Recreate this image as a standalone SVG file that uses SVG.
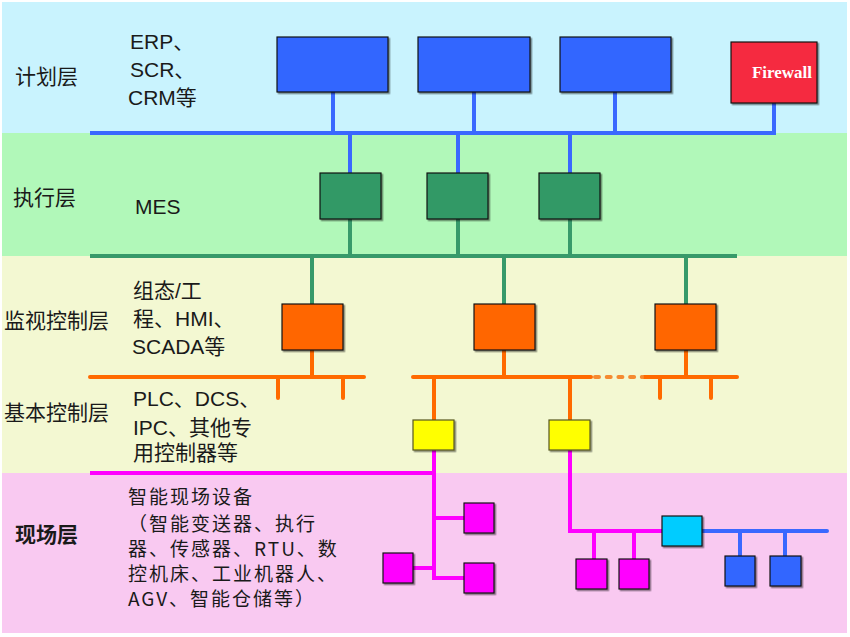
<svg xmlns="http://www.w3.org/2000/svg" width="850" height="637" viewBox="0 0 850 637">
<defs>
<filter id="sh" x="-10%" y="-10%" width="130%" height="130%">
<feDropShadow dx="1.5" dy="1.5" stdDeviation="0.6" flood-color="#000" flood-opacity="0.45"/>
</filter>
<style>
.box{stroke:#111;stroke-width:1.2;filter:url(#sh)}
.blue{fill:#3366FF}
.green{fill:#339966}
.orange{fill:#FF6600}
.yellow{fill:#FFFF00;stroke:#555522}
.mag{fill:#FF00FF}
.cyan{fill:#00CCFF}
.lb{fill:none;stroke:#3A68FF;stroke-width:4}
.lg{fill:none;stroke:#379A6A;stroke-width:4}
.lo{fill:none;stroke:#FF6A00;stroke-width:4;stroke-linecap:round}
.lm{fill:none;stroke:#FF00FF;stroke-width:4}
.t{font-family:"Liberation Sans","Noto Sans CJK SC",sans-serif;font-size:21px;fill:#1a1a1a}
.f{font-family:"Noto Sans CJK SC","Liberation Sans",sans-serif;font-size:19px;letter-spacing:2px;fill:#1a1a1a}
</style>
</defs>
<g id="bands">
<rect x="2" y="2" width="845" height="131" fill="#C9F3FE"/>
<rect x="2" y="133" width="845" height="123" fill="#B1F8B9"/>
<rect x="2" y="256" width="845" height="217" fill="#F3F8D2"/>
<rect x="2" y="473" width="845" height="160" fill="#F9C9F1"/>
</g>
<g id="labels">
<text class="t" x="15" y="84">计划层</text>
<text class="t" x="130" y="49">ERP、</text>
<text class="t" x="130" y="77">SCR、</text>
<text class="t" x="128" y="105">CRM等</text>
<text class="t" x="13" y="205">执行层</text>
<text class="t" x="135" y="214">MES</text>
<text class="t" x="4" y="328">监视控制层</text>
<text class="t" x="133" y="298">组态/工</text>
<text class="t" x="133" y="326">程、HMI、</text>
<text class="t" x="132" y="354">SCADA等</text>
<text class="t" x="4" y="420">基本控制层</text>
<text class="t" x="133" y="406">PLC、DCS、</text>
<text class="t" x="133" y="435">IPC、其他专</text>
<text class="t" x="133" y="460">用控制器等</text>
<text class="t" x="15" y="542" font-weight="bold">现场层</text>
<text class="f" x="128" y="504">智能现场设备</text>
<text class="f" x="128" y="531">（智能变送器、执行</text>
<text class="f" x="128" y="556">器、传感器、RTU、数</text>
<text class="f" x="128" y="581">控机床、工业机器人、</text>
<text class="f" x="128" y="606">AGV、智能仓储等）</text>
</g>
<g id="connectors">
<path class="lb" d="M90 133 H774 V103"/>
<path class="lb" d="M333 92 V133 M474 92 V133 M615 92 V133"/>
<path class="lb" d="M350 133 V173 M458 133 V173 M570 133 V173"/>
<path class="lg" d="M350 219 V256 M458 219 V256 M570 219 V256"/>
<path class="lg" d="M90 256 H737"/>
<path class="lg" d="M312 256 V304 M504 256 V304 M686 256 V304"/>
<path class="lo" d="M312 350 V377 M504 350 V377 M686 350 V377"/>
<path class="lo" d="M90 377 H364 M278 377 V398 M343 377 V398"/>
<path class="lo" d="M413 377 H591 M644 377 H737 M660 377 V398 M711 377 V398"/>
<path fill="none" stroke="#F58A30" stroke-width="4" stroke-linecap="round" stroke-dasharray="4 7.7" d="M595 377 H642"/>
<path class="lo" stroke-linecap="butt" d="M434 377 V420 M570 377 V420"/>
<path class="lm" d="M90 473 H434 M434 450 V578 H464 M434 518 H464 M413 568 H434"/>
<path class="lm" d="M570 450 V531 H662 M594 531 V559 M634 531 V559"/>
<path class="lb" d="M702 531 H827 M740 531 V556 M785 531 V556" stroke-linecap="round"/>
</g>
<g id="erp1"><rect class="box blue" x="277" y="37" width="111" height="55"/></g>
<g id="erp2"><rect class="box blue" x="418" y="37" width="112" height="55"/></g>
<g id="erp3"><rect class="box blue" x="560" y="37" width="111" height="55"/></g>
<g id="firewall"><rect class="box" fill="#F52A3F" x="731" y="42" width="86" height="61"/>
<text x="782" y="78" text-anchor="middle" font-family="Liberation Serif,serif" font-weight="bold" font-size="17" fill="#fff">Firewall</text></g>
<g id="mes1"><rect class="box green" x="320" y="173" width="61" height="46"/></g>
<g id="mes2"><rect class="box green" x="427" y="173" width="61" height="46"/></g>
<g id="mes3"><rect class="box green" x="539" y="173" width="61" height="46"/></g>
<g id="scada1"><rect class="box orange" x="282" y="304" width="61" height="46"/></g>
<g id="scada2"><rect class="box orange" x="474" y="304" width="61" height="46"/></g>
<g id="scada3"><rect class="box orange" x="655" y="304" width="61" height="46"/></g>
<g id="plc1"><rect class="box yellow" x="413" y="420" width="41" height="30"/></g>
<g id="plc2"><rect class="box yellow" x="549" y="420" width="41" height="30"/></g>
<g id="dev1"><rect class="box mag" x="464" y="503" width="30" height="30"/></g>
<g id="dev2"><rect class="box mag" x="464" y="563" width="30" height="30"/></g>
<g id="dev3"><rect class="box mag" x="383" y="553" width="30" height="30"/></g>
<g id="dev4"><rect class="box mag" x="576" y="559" width="31" height="30"/></g>
<g id="dev5"><rect class="box mag" x="619" y="559" width="30" height="30"/></g>
<g id="gateway"><rect class="box cyan" x="662" y="516" width="40" height="30"/></g>
<g id="dev6"><rect class="box blue" x="725" y="556" width="30" height="30"/></g>
<g id="dev7"><rect class="box blue" x="770" y="556" width="31" height="30"/></g>
</svg>
